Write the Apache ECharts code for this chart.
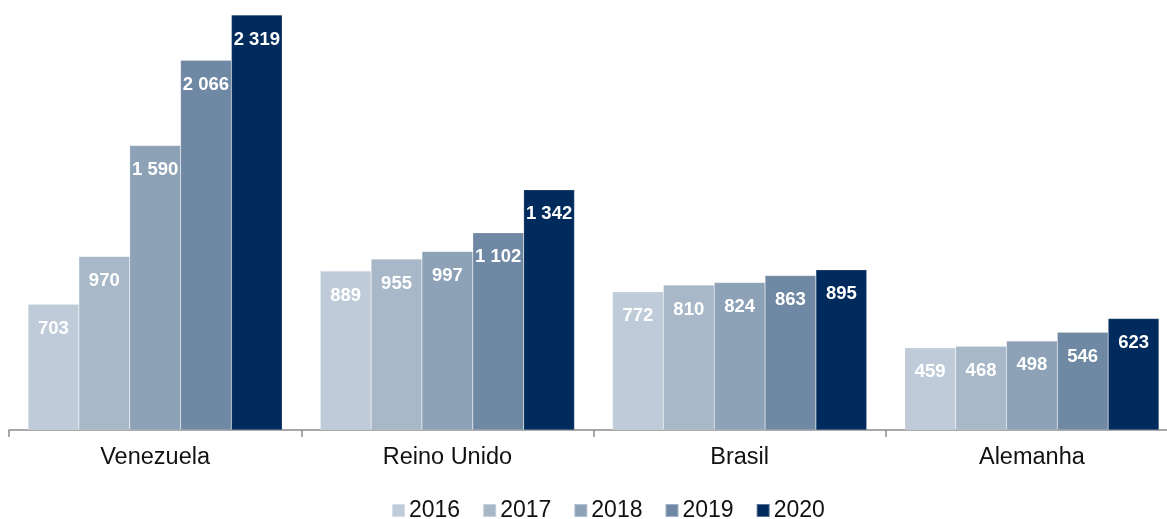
<!DOCTYPE html>
<html>
<head>
<meta charset="utf-8">
<script src="https://cdn.jsdelivr.net/npm/echarts@6/dist/echarts.min.js"></script>
<style>
  html, body { margin: 0; padding: 0; background: #fff; }
  #chart { width: 1167px; height: 519px; }
</style>
</head>
<body>
<div id="chart"></div>
<script>
// Countries on the category axis
const countries = ['Venezuela', 'Reino Unido', 'Brasil', 'Alemanha'];
// Years shown as series
const years = ['2016', '2017', '2018', '2019', '2020'];
// Values per year, in country order
const v2016 = [703, 889, 772, 459];
const v2017 = [970, 955, 810, 468];
const v2018 = [1590, 997, 824, 498];
const v2019 = [2066, 1102, 863, 546];
const v2020 = [2319, 1342, 895, 623];
const yearColors = ['#BFCBD8', '#A8B8C9', '#8DA2B7', '#6F88A3', '#002B5C'];

const valuesByYear = [v2016, v2017, v2018, v2019, v2020];

// Thousands separated by a space, e.g. 2 319
function fmt(n) {
  return String(n).replace(/\B(?=(\d{3})+(?!\d))/g, ' ');
}

const chart = echarts.init(document.getElementById('chart'), null, { renderer: 'canvas' });

chart.setOption({
  animation: false,
  backgroundColor: '#ffffff',
  textStyle: { fontFamily: 'Liberation Sans, Arial, sans-serif' },
  // plot area runs a little past the right edge of the canvas
  grid: { left: 9, width: 1169, top: 15, height: 415, containLabel: false, outerBoundsMode: 'none' },
  legend: {
    top: 494,
    left: 386,
    itemWidth: 13,
    itemHeight: 13,
    itemGap: 22,
    icon: 'rect',
    textStyle: { fontSize: 23, color: '#111', padding: [0, 0, 0, -1] },
    data: years
  },
  xAxis: {
    type: 'category',
    data: countries,
    axisLine: { lineStyle: { color: '#8c8c8c', width: 1.5 } },
    axisTick: { show: true, length: 7, lineStyle: { color: '#8c8c8c', width: 1.5 } },
    axisLabel: { fontSize: 23.5, color: '#111', margin: 16 }
  },
  yAxis: {
    type: 'value',
    min: 0,
    max: 2319,
    show: false,
    splitLine: { show: false }
  },
  series: years.map((y, i) => ({
    name: y,
    type: 'bar',
    data: valuesByYear[i],
    barGap: '0%',
    barCategoryGap: '13%',
    itemStyle: { color: yearColors[i], borderColor: 'rgba(255,255,255,0.35)', borderWidth: 0.5 },
    label: {
      show: true,
      position: 'insideTop',
      distance: 15,
      color: '#ffffff',
      fontWeight: 'bold',
      fontSize: 18.5,
      formatter: p => fmt(p.value)
    }
  }))
});
</script>
</body>
</html>
